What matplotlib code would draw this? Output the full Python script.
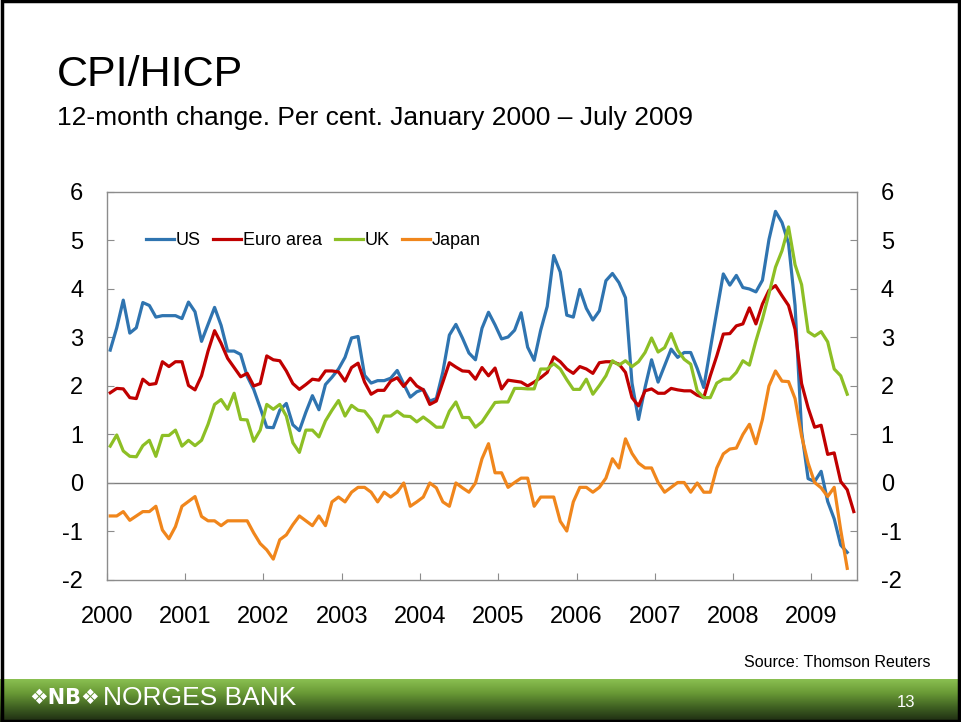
import numpy as np
import matplotlib
matplotlib.use("Agg")
import matplotlib.pyplot as plt
from matplotlib.patches import Rectangle
from matplotlib.colors import LinearSegmentedColormap

plt.rcParams["font.family"] = ["Liberation Sans", "DejaVu Sans"]
plt.rcParams["axes.unicode_minus"] = False

# monthly 12-month change, Jan 2000 onwards
us = [2.74, 3.2, 3.77, 3.09, 3.2, 3.72, 3.66, 3.42, 3.45, 3.45, 3.45, 3.39,
      3.73, 3.53, 2.92, 3.27, 3.62, 3.25, 2.72, 2.72, 2.65, 2.2, 1.93, 1.55,
      1.15, 1.14, 1.5, 1.64, 1.2, 1.08, 1.46, 1.8, 1.51, 2.03, 2.18, 2.35,
      2.59, 2.99, 3.02, 2.22, 2.06, 2.11, 2.11, 2.16, 2.32, 2.04, 1.77, 1.88,
      1.93, 1.69, 1.74, 2.29, 3.05, 3.27, 2.99, 2.68, 2.54, 3.19, 3.52, 3.26,
      2.97, 3.01, 3.15, 3.51, 2.8, 2.53, 3.15, 3.64, 4.69, 4.35, 3.46, 3.42,
      3.99, 3.6, 3.36, 3.55, 4.17, 4.32, 4.13, 3.82, 2.06, 1.31, 1.97, 2.54,
      2.08, 2.42, 2.76, 2.59, 2.69, 2.69, 2.36, 1.97, 2.76, 3.54, 4.31, 4.08,
      4.28, 4.03, 4.0, 3.94, 4.18, 5.02, 5.6, 5.37, 4.94, 3.66, 1.07, 0.09,
      0.03, 0.24, -0.38, -0.74, -1.28, -1.43]

euro = [1.86, 1.95, 1.94, 1.76, 1.74, 2.14, 2.03, 2.05, 2.5, 2.4, 2.5, 2.5,
        2.01, 1.92, 2.21, 2.72, 3.14, 2.88, 2.57, 2.38, 2.19, 2.26, 2.0, 2.05,
        2.62, 2.54, 2.52, 2.31, 2.05, 1.93, 2.03, 2.14, 2.12, 2.31, 2.31, 2.29,
        2.1, 2.38, 2.47, 2.08, 1.83, 1.91, 1.91, 2.1, 2.17, 1.99, 2.16, 2.0,
        1.92, 1.62, 1.69, 2.08, 2.48, 2.39, 2.31, 2.3, 2.14, 2.38, 2.21, 2.37,
        1.94, 2.12, 2.1, 2.08, 2.0, 2.08, 2.17, 2.28, 2.6, 2.5, 2.35, 2.26,
        2.4, 2.35, 2.26, 2.48, 2.5, 2.5, 2.45, 2.28, 1.76, 1.59, 1.9, 1.94,
        1.85, 1.85, 1.95, 1.92, 1.9, 1.9, 1.81, 1.76, 2.21, 2.62, 3.07, 3.08,
        3.24, 3.28, 3.61, 3.28, 3.69, 3.97, 4.07, 3.86, 3.66, 3.17, 2.05, 1.55,
        1.15, 1.19, 0.59, 0.62, 0.03, -0.14, -0.59]

uk = [0.76, 0.99, 0.66, 0.55, 0.54, 0.77, 0.88, 0.55, 0.98, 0.98, 1.09, 0.76,
      0.88, 0.77, 0.88, 1.21, 1.62, 1.72, 1.52, 1.85, 1.31, 1.3, 0.86, 1.09,
      1.62, 1.52, 1.62, 1.38, 0.83, 0.63, 1.09, 1.09, 0.95, 1.28, 1.5, 1.7,
      1.38, 1.6, 1.5, 1.48, 1.31, 1.05, 1.38, 1.38, 1.48, 1.38, 1.37, 1.26,
      1.36, 1.26, 1.15, 1.15, 1.48, 1.67, 1.35, 1.35, 1.15, 1.26, 1.46, 1.66,
      1.67, 1.67, 1.95, 1.95, 1.94, 1.94, 2.35, 2.35, 2.46, 2.35, 2.13, 1.93,
      1.93, 2.14, 1.83, 2.01, 2.21, 2.52, 2.43, 2.52, 2.4, 2.5, 2.69, 2.99,
      2.7, 2.79, 3.08, 2.74, 2.55, 2.45, 1.9, 1.76, 1.76, 2.06, 2.14, 2.14,
      2.28, 2.52, 2.43, 2.93, 3.38, 3.9, 4.45, 4.79, 5.28, 4.5, 4.09, 3.12,
      3.03, 3.12, 2.91, 2.35, 2.21, 1.83]

japan = [-0.68, -0.68, -0.59, -0.77, -0.68, -0.59, -0.59, -0.48, -0.97, -1.15, -0.9, -0.48,
         -0.38, -0.28, -0.69, -0.78, -0.78, -0.88, -0.78, -0.78, -0.78, -0.78, -1.03, -1.25,
         -1.38, -1.57, -1.17, -1.07, -0.86, -0.68, -0.78, -0.88, -0.68, -0.88, -0.39, -0.29,
         -0.39, -0.19, -0.09, -0.09, -0.19, -0.39, -0.19, -0.29, -0.19, 0.0, -0.48, -0.39,
         -0.29, 0.0, -0.1, -0.39, -0.48, 0.0, -0.1, -0.19, 0.0, 0.5, 0.81, 0.21,
         0.21, -0.09, 0.01, 0.1, 0.1, -0.48, -0.29, -0.29, -0.29, -0.79, -0.99, -0.39,
         -0.09, -0.09, -0.19, -0.09, 0.1, 0.5, 0.31, 0.91, 0.61, 0.41, 0.31, 0.31,
         0.01, -0.19, -0.09, 0.01, 0.01, -0.19, 0.0, -0.19, -0.19, 0.31, 0.6, 0.7,
         0.72, 1.0, 1.21, 0.81, 1.31, 2.0, 2.31, 2.1, 2.09, 1.74, 0.97, 0.41,
         0.01, -0.1, -0.28, -0.09, -0.97, -1.76]

years = [str(y) for y in range(2000, 2010)]
n_months = 115  # Jan 2000 - Jul 2009

series = [
    ("US", us, "#2f74b0"),
    ("Euro area", euro, "#c00000"),
    ("UK", uk, "#8dbf25"),
    ("Japan", japan, "#f0861c"),
]

fig = plt.figure(figsize=(9.61, 7.22), dpi=100)

# slide frame
fig.patches.append(Rectangle((0.002, 0.002), 0.996, 0.996, transform=fig.transFigure,
                             fill=False, edgecolor="black", linewidth=2.5, zorder=0))

# footer bar with green gradient
fax = fig.add_axes([0.0, 0.0, 1.0, 0.06])
grad = np.linspace(0, 1, 100).reshape(-1, 1)
cmap = LinearSegmentedColormap.from_list("nb", ["#1d2a12", "#3f6122", "#6a9a36", "#8cc253"])
fax.imshow(grad, aspect="auto", cmap=cmap, extent=[0, 1, 0, 1], origin="lower")
fax.set_xlim(0, 1)
fax.set_ylim(0, 1)
fax.axis("off")
fax.text(0.03, 0.55, "\u2756NB\u2756", color="white", fontsize=15, va="center",
         family=["DejaVu Sans"], fontweight="bold")
fax.text(0.107, 0.55, "NORGES BANK", color="white", fontsize=19, va="center")
fax.text(0.943, 0.45, "13", color="white", fontsize=12, va="center", ha="center")

fig.text(0.059, 0.896, "CPI/HICP", fontsize=31, va="center", ha="left")
fig.text(0.059, 0.836, "12-month change. Per cent. January 2000 \u2013 July 2009",
         fontsize=19, va="center", ha="left")
fig.text(0.968, 0.083, "Source: Thomson Reuters", fontsize=11.5, ha="right", va="center")

ax = fig.add_axes([0.1113, 0.1967, 0.7805, 0.5374])
x = np.arange(n_months) + 0.5
for name, vals, col in series:
    ax.plot(x[:len(vals)], vals, color=col, lw=2.3, label=name, solid_joinstyle="round")

ax.axhline(0, color="#808080", lw=1.0, zorder=0)
ax.set_xlim(0, n_months)
ax.set_ylim(-2, 6)
ax.set_yticks(range(-2, 7))
ax.set_xticks(np.arange(0, 120, 12))
ax.set_xticklabels(years)

for s in ax.spines.values():
    s.set_color("#8c8c8c")
    s.set_linewidth(1.0)

ax.tick_params(axis="both", direction="in", length=5, color="#8c8c8c", labelsize=17,
               labelcolor="black")
ax.tick_params(axis="x", pad=19)
ax.tick_params(axis="y", pad=17, labelright=True, right=True)
ax.tick_params(axis="y", which="major", labelright=True)

leg = ax.legend(loc="center left", bbox_to_anchor=(0.052, 0.875), ncol=4, frameon=False,
                fontsize=13, handlelength=1.55, handletextpad=0.1, columnspacing=0.7,
                borderaxespad=0, borderpad=0)

fig.savefig("out.png", dpi=100)
